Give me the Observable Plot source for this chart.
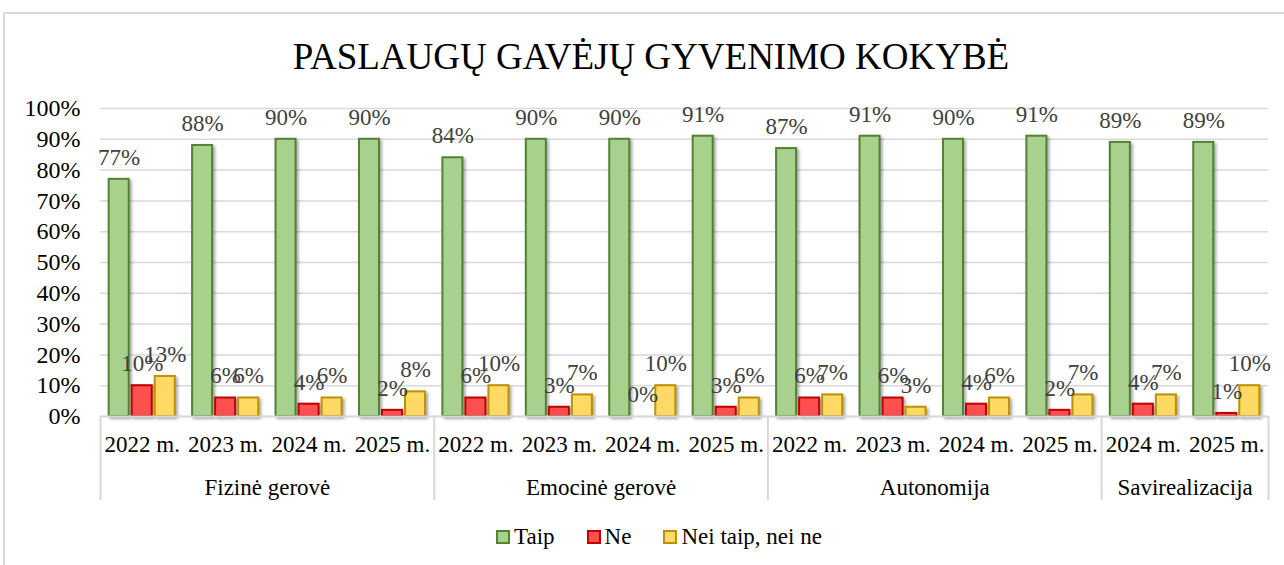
<!DOCTYPE html>
<html><head><meta charset="utf-8">
<script src="https://cdn.jsdelivr.net/npm/d3@7"></script>
<script src="https://cdn.jsdelivr.net/npm/@observablehq/plot@0.6"></script>
<style>
body{margin:0;background:#fff;width:1284px;height:565px;overflow:hidden;position:relative;font-family:"Liberation Serif","Times New Roman",serif;}
#frame{position:absolute;left:3px;top:12px;width:1300px;height:600px;border-left:2px solid #d9d9d9;border-top:2px solid #d9d9d9;box-sizing:border-box;}
#title{position:absolute;top:35px;left:0;width:1302px;text-align:center;font-size:37px;line-height:44px;color:#000;white-space:nowrap;}
#chart{position:absolute;top:90px;left:0;}
#chart svg, #chart svg text{font-family:"Liberation Serif","Times New Roman",serif !important;}
#legend{position:absolute;top:523px;left:0;width:1318px;display:flex;justify-content:center;align-items:center;font-size:23px;line-height:28px;color:#000;font-family:"Liberation Serif","Times New Roman",serif;}
#legend .item{display:flex;align-items:center;margin:0 16px;}
#legend .sw{width:10px;height:10px;border:2px solid;margin-right:4px;}
</style>
</head><body>
<div id="frame"></div>
<div id="title">PASLAUGŲ GAVĖJŲ GYVENIMO KOKYBĖ</div>
<div id="chart"></div>
<div id="legend"></div>
<script>
const groups = ["Fizinė gerovė", "Emocinė gerovė", "Autonomija", "Savirealizacija"];
const groupSizes = [4, 4, 4, 2];
const years = ["2022 m.", "2023 m.", "2024 m.", "2025 m.",
               "2022 m.", "2023 m.", "2024 m.", "2025 m.",
               "2022 m.", "2023 m.", "2024 m.", "2025 m.",
               "2024 m.", "2025 m."];
const series = ["Taip", "Ne", "Nei taip, nei ne"];
const taip    = [77, 88, 90, 90, 84, 90, 90, 91, 87, 91, 90, 91, 89, 89];
const ne      = [10,  6,  4,  2,  6,  3,  0,  3,  6,  6,  4,  2,  4,  1];
const neiTaip = [13,  6,  6,  8, 10,  7, 10,  6,  7,  3,  6,  7,  7, 10];
const yTicks  = [0, 10, 20, 30, 40, 50, 60, 70, 80, 90, 100];

const fills   = ["#a9d18e", "#ff5050", "#ffd966"];
const strokes = ["#548235", "#c00000", "#bf9000"];
const FONT = '"Liberation Serif","Times New Roman",serif';

const values = [taip, ne, neiTaip];
const rows = [];
values.forEach((arr, s) => arr.forEach((v, i) => rows.push({i, s, v, series: series[s]})));

const STEP = 0.276, HALF = 0.12;
const xc = d => d.i + (d.s - 1) * STEP;

const bounds = [-0.5];
const centers = [];
let acc = 0;
groupSizes.forEach(n => { centers.push(acc + (n - 1) / 2); acc += n; bounds.push(acc - 0.5); });
const idx = years.map((_, i) => i);

const plot = Plot.plot({
  width: 1284,
  height: 416,
  marginTop: 18,
  marginBottom: 90,
  marginLeft: 100,
  marginRight: 16,
  style: {fontFamily: FONT, fontSize: "23px", overflow: "visible", background: "transparent"},
  x: {domain: [-0.5, 13.5], label: null},
  y: {domain: [0, 100], label: null},
  color: {domain: series, range: fills},
  marks: [
    Plot.gridY(yTicks, {stroke: "#d9d9d9", strokeOpacity: 1, strokeWidth: 1.5}),
    Plot.axisY(yTicks, {tickSize: 0, tickPadding: 20, tickFormat: d => d + "%", fill: "#000", fontSize: 24, fontFamily: FONT, label: null}),
    Plot.rectY(rows, {
      x1: d => xc(d) - HALF, x2: d => xc(d) + HALF, y1: 0, y2: "v",
      fill: d => fills[d.s], stroke: d => strokes[d.s], strokeWidth: 2
    }),
    Plot.ruleY([0], {stroke: "#d9d9d9", strokeWidth: 2}),
    Plot.text(rows, {
      x: xc, y: "v", text: d => d.v + "%", dy: -22, lineAnchor: "middle",
      fill: "#404040", fontSize: 23, fontFamily: FONT
    }),
    Plot.axisX(idx, {tickSize: 0, tickPadding: 19, tickFormat: i => years[i], fill: "#000", fontSize: 23, fontFamily: FONT, label: null}),
    Plot.axisX(bounds, {tickSize: 84, tickFormat: () => "", stroke: "#d9d9d9", strokeWidth: 2, label: null}),
    Plot.axisX(centers, {tickSize: 0, tickPadding: 62, tickFormat: c => groups[centers.indexOf(c)], fill: "#000", fontSize: 23, fontFamily: FONT, label: null})
  ]
});
d3.select(plot).selectAll("g[aria-label='rect']").style("filter", "drop-shadow(2px 2px 1.5px rgba(0,0,0,0.35))");
document.getElementById("chart").appendChild(plot);

const legend = document.getElementById("legend");
series.forEach((s, k) => {
  const it = document.createElement("div");
  it.className = "item";
  const sw = document.createElement("div");
  sw.className = "sw";
  sw.style.background = fills[k];
  sw.style.borderColor = strokes[k];
  it.appendChild(sw);
  const t = document.createElement("span");
  t.textContent = s;
  it.appendChild(t);
  legend.appendChild(it);
});
</script>
</body></html>
